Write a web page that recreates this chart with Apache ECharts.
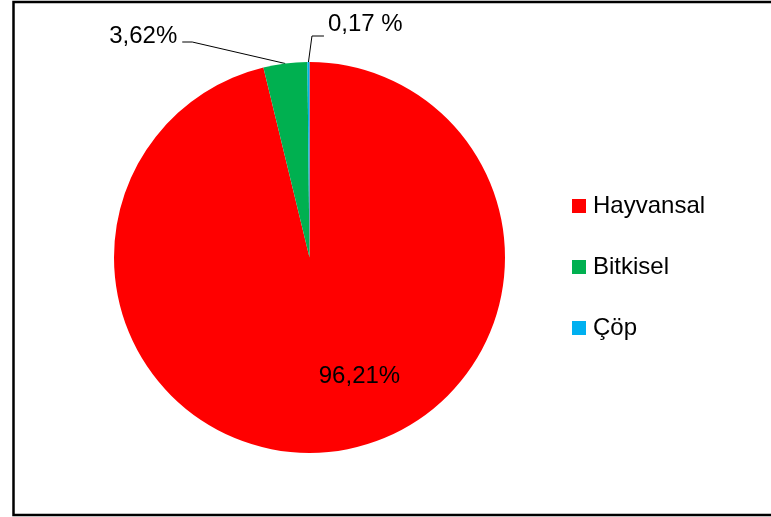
<!DOCTYPE html>
<html>
<head>
<meta charset="utf-8">
<script src="https://cdn.jsdelivr.net/npm/echarts@6/dist/echarts.min.js"></script>
<style>
html,body{margin:0;padding:0;background:#fff;}
#chart{width:771px;height:517px;}
</style>
</head>
<body>
<div id="chart"></div>
<script>
var categories = ['Hayvansal', 'Bitkisel', 'Çöp'];
var values = [96.21, 3.62, 0.17];
var colors = ['#FF0000', '#00B050', '#00B0F0'];
var labelSuffix = ['%', '%', ' %'];

var FONT = '"Liberation Sans", Arial, sans-serif';

var chart = echarts.init(document.getElementById('chart'), null, {renderer: 'canvas'});

var data = categories.map(function (c, i) {
  var item = {name: c, value: values[i], itemStyle: {color: colors[i]}};
  if (i === 0) {
    item.label = {position: 'inside', offset: [38, 19]};
    item.labelLine = {show: false};
  }
  return item;
});

var option = {
  animation: false,
  backgroundColor: '#ffffff',
  graphic: [{
    type: 'rect',
    shape: {x: 13.5, y: 2, width: 800, height: 513},
    style: {fill: 'none', stroke: '#000', lineWidth: 2.5},
    silent: true
  }],
  legend: {
    orient: 'vertical',
    left: 567,
    top: 189,
    icon: 'rect',
    itemWidth: 14,
    itemHeight: 14,
    itemGap: 37,
    textStyle: {fontFamily: FONT, fontSize: 24, color: '#000', lineHeight: 24, padding: [0, 0, 0, 2]},
    data: categories
  },
  series: [{
    type: 'pie',
    center: [309.5, 257.5],
    radius: [0, 195.5],
    startAngle: 90,
    clockwise: true,
    avoidLabelOverlap: false,
    itemStyle: {borderWidth: 0},
    label: {
      show: true,
      position: 'outside',
      fontFamily: FONT,
      fontSize: 24,
      color: '#000',
      formatter: function (p) {
        return values[p.dataIndex].toFixed(2).replace('.', ',') + labelSuffix[p.dataIndex];
      }
    },
    labelLine: {show: true, length: 20, length2: 10, lineStyle: {color: '#000', width: 1}},
    labelLayout: function (params) {
      var pts = params.labelLinePoints;
      if (!pts) return {};
      var a = pts[0];
      if (params.dataIndex === 1) {
        return {
          x: a[0] - 108, y: a[1] - 27.5, align: 'right', verticalAlign: 'middle',
          labelLinePoints: [[a[0], a[1]], [a[0] - 93, a[1] - 21.5], [a[0] - 103, a[1] - 21.5]]
        };
      }
      if (params.dataIndex === 2) {
        return {
          x: a[0] + 19.5, y: a[1] - 38, align: 'left', verticalAlign: 'middle',
          labelLinePoints: [[a[0], a[1]], [a[0] + 3.5, a[1] - 26], [a[0] + 15.5, a[1] - 26]]
        };
      }
      return {};
    },
    data: data
  }]
};
chart.setOption(option);
</script>
</body>
</html>
